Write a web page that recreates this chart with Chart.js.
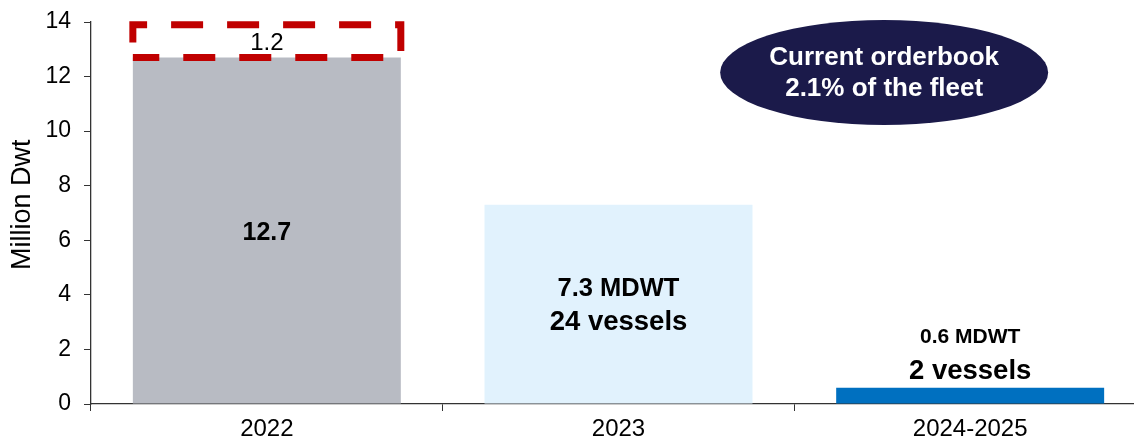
<!DOCTYPE html>
<html>
<head>
<meta charset="utf-8">
<script src="https://cdn.jsdelivr.net/npm/chart.js@4.4.0/dist/chart.umd.min.js"></script>
<style>
html,body{margin:0;padding:0;overflow:hidden;background:#fff;}
#wrap{width:1150px;height:440px;position:relative;}
</style>
</head>
<body>
<div id="wrap"><canvas id="c"></canvas></div>
<script>
const categories = ['2022', '2023', '2024-2025'];
const deliveredValues = [12.7, 7.3, 0.6];
const pendingValues = [1.2, null, null];
const barColors = ['#b8bbc3', '#e1f2fd', '#0070c0'];
const yTicks = [0, 2, 4, 6, 8, 10, 12, 14];
const barLabels = [
  ['12.7'],
  ['7.3 MDWT', '24 vessels'],
  ['0.6 MDWT', '2 vessels']
];
const calloutLines = ['Current orderbook', '2.1% of the fleet'];
const yTitle = 'Million Dwt';

const FONT = '"Liberation Sans", Arial, sans-serif';

const overlay = {
  id: 'overlay',
  afterDatasetsDraw(chart) {
    const ctx = chart.ctx;
    const ys = chart.scales.y;
    const meta0 = chart.getDatasetMeta(0);
    const meta1 = chart.getDatasetMeta(1);
    ctx.save();
    // dashed pending box
    const el = meta1.data[0];
    if (el) {
      const l = el.x - el.width / 2, r = el.x + el.width / 2;
      const t = el.y, b = el.base;
      ctx.strokeStyle = '#c00000';
      ctx.lineWidth = 7;
      ctx.setLineDash([32, 24]);
      ctx.lineDashOffset = 41;
      ctx.beginPath();
      ctx.moveTo(l, b); ctx.lineTo(l, t); ctx.lineTo(r, t); ctx.lineTo(r, b); ctx.closePath();
      ctx.stroke();
      ctx.setLineDash([]);
      ctx.fillStyle = '#000';
      ctx.font = '24px ' + FONT;
      ctx.textAlign = 'center';
      ctx.textBaseline = 'alphabetic';
      ctx.fillText(String(pendingValues[0]), el.x, (t + b) / 2 + 9);
    }
    // bar labels
    ctx.fillStyle = '#000';
    ctx.textAlign = 'center';
    ctx.textBaseline = 'alphabetic';
    const b0 = meta0.data[0];
    ctx.font = 'bold 25px ' + FONT;
    ctx.fillText(barLabels[0][0], b0.x, ys.getPixelForValue(deliveredValues[0] / 2) + 9);
    const b1 = meta0.data[1];
    const mid1 = ys.getPixelForValue(deliveredValues[1] / 2);
    ctx.font = 'bold 25.5px ' + FONT;
    ctx.fillText(barLabels[1][0], b1.x, mid1 - 17 + 9);
    ctx.font = 'bold 27.5px ' + FONT;
    ctx.fillText(barLabels[1][1], b1.x, mid1 + 16 + 10);
    const b2 = meta0.data[2];
    ctx.font = 'bold 21px ' + FONT;
    ctx.fillText(barLabels[2][0], b2.x, b2.y - 52 + 7.5);
    ctx.font = 'bold 27.5px ' + FONT;
    ctx.fillText(barLabels[2][1], b2.x, b2.y - 19 + 10);
    // callout ellipse
    const ca = chart.chartArea;
    const cx = ca.left + (ca.right - ca.left) * 0.7518;
    const cy = ys.getPixelForValue(12.15);
    ctx.fillStyle = '#1b1a4a';
    ctx.beginPath();
    ctx.ellipse(cx, cy, 164, 52.5, 0, 0, Math.PI * 2);
    ctx.fill();
    ctx.fillStyle = '#fff';
    ctx.font = 'bold 26px ' + FONT;
    ctx.fillText(calloutLines[0], cx, cy - 16 + 9);
    ctx.fillText(calloutLines[1], cx, cy + 15 + 9);
    // y-axis title
    ctx.fillStyle = '#000';
    ctx.font = '27px ' + FONT;
    ctx.translate(22, ys.getPixelForValue(7.3));
    ctx.rotate(-Math.PI / 2);
    ctx.textBaseline = 'middle';
    ctx.fillText(yTitle, 0, 1);
    ctx.restore();
  }
};

new Chart(document.getElementById('c'), {
  type: 'bar',
  data: {
    labels: categories,
    datasets: [
      {data: deliveredValues, backgroundColor: barColors, borderWidth: 0},
      {data: pendingValues, backgroundColor: 'rgba(0,0,0,0)', borderWidth: 0}
    ]
  },
  options: {
    responsive: true,
    maintainAspectRatio: false,
    animation: false,
    events: [],
    datasets: {bar: {categoryPercentage: 1, barPercentage: 0.762}},
    layout: {padding: {top: 22, right: 4, left: 0, bottom: 0}},
    plugins: {legend: {display: false}, tooltip: {enabled: false}},
    scales: {
      x: {
        stacked: true,
        grid: {display: true, drawOnChartArea: false, tickLength: 7, color: '#333', offset: true},
        border: {color: '#333', width: 1.3},
        ticks: {color: '#000', font: {family: FONT, size: 24}, padding: 4, maxRotation: 0},
        afterFit(s) { s.height = 36; }
      },
      y: {
        stacked: true,
        min: 0, max: 14,
        afterBuildTicks(s) { s.ticks = yTicks.map(v => ({value: v})); },
        grid: {display: true, drawOnChartArea: false, tickLength: 7, color: '#333'},
        border: {color: '#333', width: 1.3},
        ticks: {color: '#000', font: {family: FONT, size: 23, lineHeight: 0.3}, padding: 13},
        afterFit(s) { s.width = 91; }
      }
    }
  },
  plugins: [overlay]
});
</script>
</body>
</html>
